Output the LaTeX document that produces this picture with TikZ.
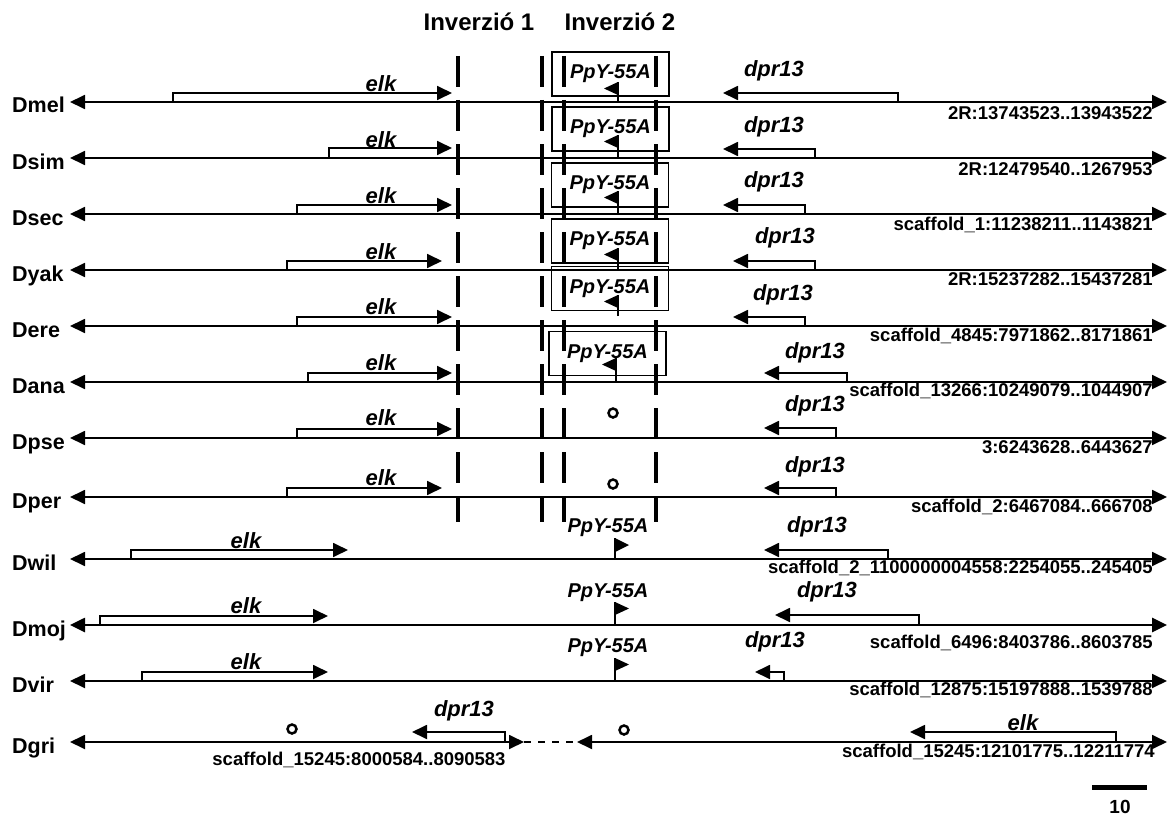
\documentclass[tikz,border=0pt]{standalone}
\usepackage{fontspec}
\setmainfont{Liberation Sans}
\usetikzlibrary{arrows.meta}

\begin{document}
\begin{tikzpicture}[x=1pt, y=-1pt,
    track/.style={line width=1.8pt, {Triangle[length=15pt,width=14pt]}-{Triangle[length=15pt,width=14pt]}},
    gene/.style={line width=1.8pt, -{Triangle[length=15pt,width=14pt]}},
    inv/.style={line width=4pt, dash pattern=on 31pt off 13pt},
    ppybox/.style={draw, line width=1.8pt, minimum width=117pt, minimum height=44pt, inner sep=0pt, font=\bfseries\itshape\fontsize{20}{22}\selectfont},
    glabel/.style={inner sep=0pt, font=\bfseries\itshape\fontsize{22}{24}\selectfont},
    ppylabel/.style={inner sep=0pt, font=\bfseries\itshape\fontsize{20}{22}\selectfont},
    sp/.style={anchor=base west, inner sep=0pt, font=\bfseries\fontsize{21.5}{24}\selectfont},
    loc/.style={anchor=base east, inner sep=0pt, font=\bfseries\fontsize{18.5}{20}\selectfont},
    stem/.style={line width=1.8pt},
    gap/.style={line width=2.5pt}]
                \useasboundingbox (0,0) rectangle (1168,816);

                % Inversion headers
                \node[anchor=base, font=\bfseries\fontsize{24}{26}\selectfont] (inv1) at (479,31) {Inverzió 1};
                \node[anchor=base, font=\bfseries\fontsize{24}{26}\selectfont] (inv2) at (620,31) {Inverzió 2};

                % Tracks
                \draw[track] (70,102) -- (1167,102);
                \draw[track] (70,158) -- (1167,158);
                \draw[track] (70,214) -- (1167,214);
                \draw[track] (70,270) -- (1167,270);
                \draw[track] (70,326) -- (1167,326);
                \draw[track] (70,382) -- (1167,382);
                \draw[track] (70,438) -- (1167,438);
                \draw[track] (70,497) -- (1167,497);
                \draw[track] (70,559) -- (1167,559);
                \draw[track, line width=2.6pt] (70,625) -- (1167,625);
                \draw[track] (70,681) -- (1167,681);
                \draw[track] (70,742) -- (524,742);
                \draw[line width=1.8pt, dash pattern=on 7pt off 7pt] (524,742) -- (577,742);
                \draw[track] (577,742) -- (1167,742);

                % Species names
                \node[sp] (dmel) at (12,113) {Dmel};
                \node[sp] (dsim) at (12,169) {Dsim};
                \node[sp] (dsec) at (12,225) {Dsec};
                \node[sp] (dyak) at (12,281) {Dyak};
                \node[sp] (dere) at (12,337) {Dere};
                \node[sp] (dana) at (12,393) {Dana};
                \node[sp] (dpse) at (12,449) {Dpse};
                \node[sp] (dper) at (12,508) {Dper};
                \node[sp] (dwil) at (12,570) {Dwil};
                \node[sp] (dmoj) at (12,636) {Dmoj};
                \node[sp] (dvir) at (12,692) {Dvir};
                \node[sp] (dgri) at (12,753) {Dgri};

                % elk genes
                \draw[gene] (173,102) |- (452,93);
                \draw[gene] (329,158) |- (452,148);
                \draw[gene] (297,214) |- (452,205);
                \draw[gene] (287,270) |- (442,261);
                \draw[gene] (297,326) |- (452,317);
                \draw[gene] (308,382) |- (452,373);
                \draw[gene] (297,438) |- (452,429);
                \draw[gene] (287,497) |- (442,488);
                \draw[gene] (131,559) |- (348,550);
                \draw[gene] (100,625) |- (328,616);
                \draw[gene] (142,681) |- (328,672);
                \draw[gene] (1116,742) |- (910,732);
                \node[glabel] (elkmel) at (381,84) {elk};
                \node[glabel] (elksim) at (381,140) {elk};
                \node[glabel] (elksec) at (381,196) {elk};
                \node[glabel] (elkyak) at (381,252) {elk};
                \node[glabel] (elkere) at (381,307) {elk};
                \node[glabel] (elkana) at (381,363) {elk};
                \node[glabel] (elkpse) at (381,418) {elk};
                \node[glabel] (elkper) at (381,478) {elk};
                \node[glabel] (elkwil) at (246,541) {elk};
                \node[glabel] (elkmoj) at (246,606) {elk};
                \node[glabel] (elkvir) at (246,662) {elk};
                \node[glabel] (elkgri) at (1023,723) {elk};

                % dpr13 genes
                \draw[gene] (898,102) |- (723,93);
                \draw[gene] (815,158) |- (723,149);
                \draw[gene] (805,214) |- (723,205);
                \draw[gene] (815,270) |- (733,261);
                \draw[gene] (805,326) |- (733,317);
                \draw[gene] (847,382) |- (764,373);
                \draw[gene] (836,438) |- (764,428);
                \draw[gene] (836,497) |- (764,488);
                \draw[gene] (888,559) |- (764,550);
                \draw[gene] (919,625) |- (775,615);
                \draw[gene] (784,681) |- (755,672);
                \draw[gene] (505,742) |- (412,732);
                \node[glabel] (dprmel) at (774,71) {dpr13};
                \node[glabel] (dprsim) at (774,127) {dpr13};
                \node[glabel] (dprsec) at (774,182) {dpr13};
                \node[glabel] (dpryak) at (785,238) {dpr13};
                \node[glabel] (dprere) at (783,295) {dpr13};
                \node[glabel] (dprana) at (815,353) {dpr13};
                \node[glabel] (dprpse) at (815,406) {dpr13};
                \node[glabel] (dprper) at (815,467) {dpr13};
                \node[glabel] (dprwil) at (817,527) {dpr13};
                \node[glabel] (dprmoj) at (827,592) {dpr13};
                \node[glabel] (dprvir) at (775,642) {dpr13};
                \node[glabel] (dprgri) at (464,711) {dpr13};

                % PpY-55A inside the inversion
                \node[ppybox] (ppymel) at (610.5,74) {PpY-55A};
                \node[ppybox] (ppysim) at (610.5,129) {PpY-55A};
                \node[ppybox] (ppysec) at (610,185) {PpY-55A};
                \node[ppybox] (ppyyak) at (610,241) {PpY-55A};
                \node[ppybox] (ppyere) at (610,288.5) {PpY-55A};
                \node[ppybox] (ppyana) at (607.5,353.5) {PpY-55A};
                \draw[stem] (618,102) -- (618,82);
                \fill (618,82) -- (618,95) -- (604,88.5) -- cycle;
                \draw[stem] (618,158) -- (618,135);
                \fill (618,135) -- (618,148) -- (604,141.5) -- cycle;
                \draw[stem] (618,214) -- (618,191);
                \fill (618,191) -- (618,204) -- (604,197.5) -- cycle;
                \draw[stem] (618,270) -- (618,248);
                \fill (618,248) -- (618,261) -- (604,254.5) -- cycle;
                \draw[stem] (618,316) -- (618,295);
                \fill (618,295) -- (618,308) -- (604,301.5) -- cycle;
                \draw[stem] (616,382) -- (616,358);
                \fill (616,358) -- (616,371) -- (602,364.5) -- cycle;

                % PpY-55A outside, other orientation
                \node[ppylabel] (ppywil) at (608,528) {PpY-55A};
                \node[ppylabel] (ppymoj) at (608,593) {PpY-55A};
                \node[ppylabel] (ppyvir) at (608,648) {PpY-55A};
                \draw[stem] (615,559) -- (615,538);
                \fill (615,538) -- (615,552) -- (629,545) -- cycle;
                \draw[stem] (615,625) -- (615,602);
                \fill (615,602) -- (615,615) -- (629,608.5) -- cycle;
                \draw[stem] (615,681) -- (615,658);
                \fill (615,658) -- (615,671) -- (629,664.5) -- cycle;

                % Missing gene marks
                \draw[gap] (613,413) circle (4.5pt);
                \draw[gap] (613,484) circle (4.5pt);
                \draw[gap] (292,729) circle (4.5pt);
                \draw[gap] (624,730) circle (4.5pt);

                % Breakpoints
                \draw[inv] (458,56) -- (458,522);
                \draw[inv] (542,56) -- (542,522);
                \draw[inv] (564,56) -- (564,522);
                \draw[inv] (656,56) -- (656,522);

                % Locations
                \node[loc] (locmel) at (1153,120) {2R:13743523..13943522};
                \node[loc] (locsim) at (1153,175) {2R:12479540..1267953};
                \node[loc] (locsec) at (1153,230) {scaffold\_1:11238211..1143821};
                \node[loc] (locyak) at (1153,285) {2R:15237282..15437281};
                \node[loc] (locere) at (1153,341) {scaffold\_4845:7971862..8171861};
                \node[loc] (locana) at (1153,396) {scaffold\_13266:10249079..1044907};
                \node[loc] (locpse) at (1153,453) {3:6243628..6443627};
                \node[loc] (locper) at (1153,512) {scaffold\_2:6467084..666708};
                \node[loc] (locwil) at (1153,573) {scaffold\_2\_1100000004558:2254055..245405};
                \node[loc] (locmoj) at (1153,648) {scaffold\_6496:8403786..8603785};
                \node[loc] (locvir) at (1153,695) {scaffold\_12875:15197888..1539788};
                \node[loc] (locgri) at (1155,757) {scaffold\_15245:12101775..12211774};
                \node[loc, anchor=base] (locgri2) at (359,765) {scaffold\_15245:8000584..8090583};

                % Scale bar
                \draw[line width=5pt] (1092,787) -- (1147,787);
                \node[font=\bfseries\fontsize{19}{21}\selectfont, inner sep=0pt] (scale) at (1120,807) {10};
\end{tikzpicture}
\end{document}
